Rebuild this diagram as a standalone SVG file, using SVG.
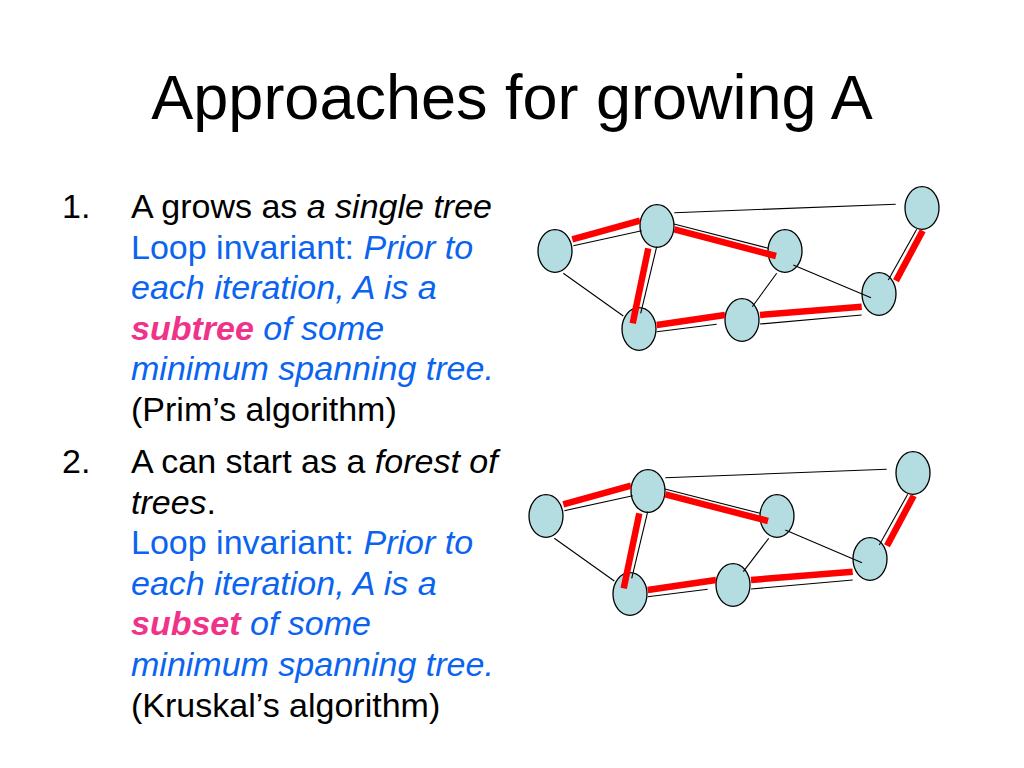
<svg xmlns="http://www.w3.org/2000/svg" width="1024" height="768" viewBox="0 0 1024 768">
<style>
text{font-family:"Liberation Sans",Arial,sans-serif;}
.title{font-size:63px;fill:#000;}
.body{font-size:34px;fill:#000;}
.blue{fill:#0a64f0;}
.pink{fill:#f0338a;font-weight:bold;font-style:italic;}
.it{font-style:italic;}
.node{fill:#b3dde0;stroke:#000;stroke-width:1.3;}
.thin{stroke:#000;stroke-width:1.1;fill:none;}
.red{stroke:#ff0000;stroke-width:6.5;fill:none;}
</style>
<rect width="1024" height="768" fill="#fff"/>
<text class="title" x="512" y="119" text-anchor="middle">Approaches for growing A</text>

<g id="list1" class="body">
<text x="62" y="218">1.</text>
<text x="131" y="218">A grows as <tspan class="it">a single tree</tspan></text>
<text x="131" y="258.6" class="blue">Loop invariant: <tspan class="it">Prior to</tspan></text>
<text x="131" y="299.2" class="blue it">each iteration, A is a</text>
<text x="131" y="339.8" class="blue it"><tspan class="pink">subtree</tspan> of some</text>
<text x="131" y="380.4" class="blue it">minimum spanning tree.</text>
<text x="131" y="421">(Prim’s algorithm)</text>
</g>
<g id="list2" class="body">
<text x="62" y="473">2.</text>
<text x="131" y="473">A can start as a <tspan class="it">forest of</tspan></text>
<text x="131" y="513.6"><tspan class="it">trees</tspan>.</text>
<text x="131" y="554.2" class="blue">Loop invariant: <tspan class="it">Prior to</tspan></text>
<text x="131" y="594.8" class="blue it">each iteration, A is a</text>
<text x="131" y="635.4" class="blue it"><tspan class="pink">subset</tspan> of some</text>
<text x="131" y="676" class="blue it">minimum spanning tree.</text>
<text x="131" y="716.6">(Kruskal’s algorithm)</text>
</g>

<g id="graph1">
<g id="g1-n1"><ellipse class="node" cx="555" cy="251" rx="17" ry="21.3"/></g>
<g id="g1-n2"><ellipse class="node" cx="657" cy="226" rx="17" ry="21.3"/></g>
<g id="g1-n3"><ellipse class="node" cx="785" cy="251" rx="17" ry="21.3"/></g>
<g id="g1-n4"><ellipse class="node" cx="922" cy="208" rx="17" ry="21.3"/></g>
<g id="g1-n5"><ellipse class="node" cx="879" cy="294" rx="17" ry="21.3"/></g>
<g id="g1-n6"><ellipse class="node" cx="742" cy="320" rx="17" ry="21.3"/></g>
<g id="g1-n7"><ellipse class="node" cx="639" cy="329" rx="17" ry="21.3"/></g>
<g id="g1-connectors">
<line class="thin" x1="573.3" y1="245.7" x2="641.7" y2="230.7"/>
<line class="thin" x1="674.3" y1="212.7" x2="895.7" y2="204.3"/>
<line class="thin" x1="674" y1="224" x2="768.3" y2="248.3"/>
<line class="thin" x1="656.7" y1="246.7" x2="640.7" y2="313.3"/>
<line class="thin" x1="563.3" y1="273.3" x2="623.3" y2="316"/>
<line class="thin" x1="776.7" y1="273.3" x2="752.3" y2="306.7"/>
<line class="thin" x1="793.3" y1="265" x2="871" y2="297.7"/>
<line class="thin" x1="916.7" y1="229.3" x2="888.3" y2="280"/>
<line class="thin" x1="656.7" y1="331.7" x2="716.7" y2="324.3"/>
<line class="thin" x1="760" y1="324" x2="861.7" y2="315"/>
<line class="red" x1="572.3" y1="239.3" x2="640" y2="220.7"/>
<line class="red" x1="674.3" y1="229.3" x2="776" y2="256"/>
<line class="red" x1="648.3" y1="248.3" x2="632.7" y2="323.3"/>
<line class="red" x1="922.7" y1="230.7" x2="896" y2="280.7"/>
<line class="red" x1="656.7" y1="325" x2="725" y2="315"/>
<line class="red" x1="760" y1="315" x2="861.7" y2="306.7"/>
</g>
</g>

<g id="graph2" transform="translate(-9,265)">
<g id="g2-n1"><ellipse class="node" cx="555" cy="251" rx="17" ry="21.3"/></g>
<g id="g2-n2"><ellipse class="node" cx="657" cy="226" rx="17" ry="21.3"/></g>
<g id="g2-n3"><ellipse class="node" cx="786" cy="251" rx="17" ry="21.3"/></g>
<g id="g2-n4"><ellipse class="node" cx="922" cy="208" rx="17" ry="21.3"/></g>
<g id="g2-n5"><ellipse class="node" cx="879" cy="294" rx="17" ry="21.3"/></g>
<g id="g2-n6"><ellipse class="node" cx="742" cy="320" rx="17" ry="21.3"/></g>
<g id="g2-n7"><ellipse class="node" cx="639" cy="329" rx="17" ry="21.3"/></g>
<g id="g2-connectors">
<line class="thin" x1="573.3" y1="245.7" x2="641.7" y2="230.7"/>
<line class="thin" x1="674.3" y1="212.7" x2="895.7" y2="204.3"/>
<line class="thin" x1="674" y1="224" x2="769" y2="248.3"/>
<line class="thin" x1="656.7" y1="246.7" x2="640.7" y2="313.3"/>
<line class="thin" x1="563.3" y1="273.3" x2="623.3" y2="316"/>
<line class="thin" x1="777.7" y1="273.3" x2="752.3" y2="306.7"/>
<line class="thin" x1="794.3" y1="265" x2="871" y2="297.7"/>
<line class="thin" x1="916.7" y1="229.3" x2="888.3" y2="280"/>
<line class="thin" x1="656.7" y1="331.7" x2="716.7" y2="324.3"/>
<line class="thin" x1="760" y1="324" x2="861.7" y2="315"/>
<line class="red" x1="572.3" y1="239.3" x2="640" y2="220.7"/>
<line class="red" x1="674.3" y1="229.3" x2="777" y2="256"/>
<line class="red" x1="648.3" y1="248.3" x2="632.7" y2="323.3"/>
<line class="red" x1="922.7" y1="230.7" x2="896" y2="280.7"/>
<line class="red" x1="656.7" y1="325" x2="725" y2="315"/>
<line class="red" x1="760" y1="315" x2="861.7" y2="306.7"/>
</g>
</g>
</svg>
